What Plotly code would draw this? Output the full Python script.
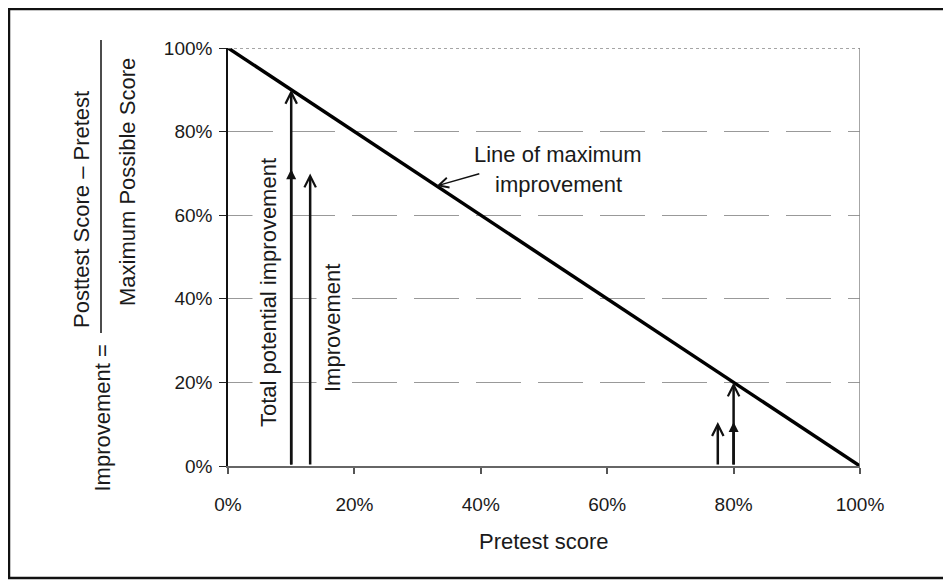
import plotly.graph_objects as go

# ---------------- data ----------------
pretest_score = [0, 100]
max_improvement = [100, 0]

total_x = [10, 80]          # pretest scores of the "total potential" arrows
total_y = [90, 20]          # total potential improvement (reaches the line)
improve_x = [13, 77.5]      # positions of the "improvement" arrows
improve_y = [70, 10.5]      # achieved improvement
marker_y = [71, 10.5]       # filled head on the total-potential arrows

pointer_tip = [33, 67]      # callout arrow tip on the line
pointer_tail = [40, 70]     # callout arrow tail near the label

tick_vals = [0, 20, 40, 60, 80, 100]
tick_text = ["0%", "20%", "40%", "60%", "80%", "100%"]

# ---------------- layout helpers ----------------
OFF = 8                      # page margin of the html body
W, H = 943, 572
L, R, T, B = 228 - OFF, 860 - OFF, 48 - OFF, 466 - OFF   # plot area (figure px)


def px(x):  # screen x -> paper
    return (x - OFF - L) / (R - L)


def py(y):  # screen y -> paper
    return (B - (y - OFF)) / (B - T)


FONT = "Liberation Sans, Arial, Helvetica, sans-serif"
TXT = "#1a1a1a"

fig = go.Figure()
fig.add_trace(go.Scatter(x=pretest_score, y=max_improvement, mode="lines",
                         line=dict(color="black", width=3.5), cliponaxis=False,
                         hoverinfo="skip"))


def pline(x0, y0, x1, y1, color="#111", width=2.5):
    return dict(type="line", xref="paper", yref="paper", x0=px(x0), x1=px(x1),
                y0=py(y0), y1=py(y1), line=dict(color=color, width=width))


shapes = [
    # outer frame (top, left, bottom; right side runs off the page)
    pline(8, 9, 1000, 9),
    pline(9, 8, 9, 579),
    pline(8, 578, 1000, 578),
    # fraction bar
    pline(101, 40, 101, 333, width=1.5),
    # top border (dotted) and right border of the plot area
    dict(type="line", xref="x", yref="y", x0=0, x1=100, y0=100, y1=100,
         line=dict(color="#888", width=1.5, dash="dot")),
    dict(type="line", xref="x", yref="y", x0=100, x1=100, y0=0, y1=100,
         line=dict(color="#888", width=1.5)),
]

ann = []


def label(text, x, y, angle=0, bg=None, size=22):
    d = dict(text=text, xref="paper", yref="paper", x=px(x), y=py(y), showarrow=False,
             textangle=angle, font=dict(family=FONT, size=size, color=TXT),
             xanchor="center", yanchor="middle")
    if bg:
        d["bgcolor"] = bg
        d["borderpad"] = 3
    ann.append(d)


label("Improvement =", 102, 418.5, -90)
label("Posttest Score \u2013 Pretest", 81, 210, -90)
label("Maximum Possible Score", 127, 182, -90)
label("Pretest score", 544, 541)
label("Total potential improvement", 268, 293, -90, bg="white")
label("Improvement", 332, 328, -90, bg="white")
label("Line of maximum", 558, 154)
label("improvement", 558, 184)


def arrow(x, y, ax, ay, head, width, size):
    ann.append(dict(text="", x=x, y=y, ax=ax, ay=ay, xref="x", yref="y", axref="x", ayref="y",
                    showarrow=True, arrowhead=head, arrowwidth=width, arrowsize=size,
                    arrowcolor="#111", standoff=0, startstandoff=0))


for xv, yv in zip(total_x, total_y):
    arrow(xv, yv, xv, 0, 5, 2.5, 0.9)
for xv, yv in zip(total_x, marker_y):
    arrow(xv, yv, xv, 0, 2, 2.5, 0.8)
for xv, yv in zip(improve_x, improve_y):
    arrow(xv, yv, xv, 0, 5, 2.5, 0.9)
arrow(pointer_tip[0], pointer_tip[1], pointer_tail[0], pointer_tail[1], 5, 1.5, 1.3)

fig.update_layout(
    width=W, height=H,
    margin=dict(l=L, r=W - R, t=T, b=H - B, pad=0),
    paper_bgcolor="white", plot_bgcolor="white",
    showlegend=False,
    shapes=shapes, annotations=ann,
    font=dict(family=FONT, color=TXT),
    xaxis=dict(range=[0, 100], tickvals=tick_vals, ticktext=tick_text,
               ticks="outside", ticklen=6, tickcolor="#555", tickwidth=1.5,
               showline=True, linecolor="#666", linewidth=2,
               showgrid=False, zeroline=False,
               tickfont=dict(family=FONT, size=19, color=TXT), ticklabelstandoff=14),
    yaxis=dict(range=[0, 100], tickvals=tick_vals, ticktext=tick_text,
               ticks="outside", ticklen=7, tickcolor="#222", tickwidth=1.2,
               showline=True, linecolor="#111", linewidth=1.5,
               showgrid=True, gridcolor="#999", gridwidth=1, griddash="45px,17px",
               zeroline=False,
               tickfont=dict(family=FONT, size=19, color=TXT), ticklabelstandoff=3),
)

fig.write_html("out.html")
